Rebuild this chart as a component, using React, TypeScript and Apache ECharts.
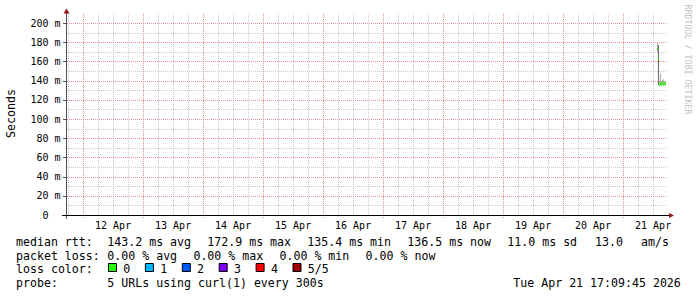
import React, { useEffect, useRef } from 'react';
import * as echarts from 'echarts';

const W = 697;
const H = 297;
const MONO = '"DejaVu Sans Mono", monospace';

// x axis: hours since 2026-04-11 00:00
const X_MIN = 17 + 9 / 60 + 45 / 3600; // Apr 11 17:09:45
const X_MAX = X_MIN + 240; // Apr 21 17:09:45
const STEP = 0.4; // 24 minutes per consolidated sample

const labelDays = [12, 13, 14, 15, 16, 17, 18, 19, 20, 21];
const monthName = 'Apr';
const yTicks = [0, 20, 40, 60, 80, 100, 120, 140, 160, 180, 200];
const Y_MAX = 210;

// samples on Apr 21 (end of each interval)
const sampleTimes = ['13:57', '14:21', '14:45', '15:09', '15:33', '15:57', '16:21', '16:45', '17:09'];
const medianRtt = [172.9, 162.5, 135.4, 137.2, 136.0, 138.3, 135.9, 137.0, 136.5];
const smokeLow = [170.0, 160.0, 135.0, 135.0, 134.8, 135.6, 135.0, 135.2, 135.3];
const smokeHigh = [179.0, 164.5, 138.0, 147.5, 138.5, 140.0, 141.5, 139.0, 138.2];
const spreadLow = [null, 135.4, null, null, null, null, null, null, null];
const spreadHigh = [null, 177.0, null, null, null, null, null, null, null];

const rttLabel = 'median rtt:';
const rttStats = ['143.2 ms avg', '172.9 ms max', '135.4 ms min', '136.5 ms now', '11.0 ms sd'];
const rttAmValue = '13.0';
const rttAmUnit = 'am/s';
const lossLabel = 'packet loss:';
const lossStats = ['0.00 % avg', '0.00 % max', '0.00 % min', '0.00 % now'];
const lossColorLabel = 'loss color:';
const lossClasses = ['0', '1', '2', '3', '4', '5/5'];
const lossClassColors = ['#26ff00', '#00b8ff', '#0059ff', '#7e00ff', '#ff0000', '#a10000'];
const probeLabel = 'probe:';
const probeText = '5 URLs using curl(1) every 300s';
const stampText = 'Tue Apr 21 17:09:45 2026';
const watermark = 'RRDTOOL / TOBI OETIKER';
const yName = 'Seconds';

const toHours = (hm: string) => {
  const [h, m] = hm.split(':').map(Number);
  return 240 + h + m / 60;
};
const sampleHours = sampleTimes.map(toHours);

const GRID_LEFT = 66;
const GRID_TOP = 13.4;
const GRID_W = 600;
const GRID_H = 201.6;
const GRID_BOTTOM_Y = GRID_TOP + GRID_H;

const MINOR_COLOR = 'rgb(200,200,200)';
const MAJOR_COLOR = 'rgb(230,140,140)';

export default function App() {
  const ref = useRef<HTMLDivElement>(null);
  useEffect(() => {
    if (!ref.current) return;
    const chart = echarts.init(ref.current, null, { renderer: 'svg' });

    const hGrid: number[][] = [];
    for (let v = 10; v < Y_MAX; v += 10) hGrid.push([X_MIN, v]);
    const vGrid: number[][] = [];
    for (let h = Math.ceil(X_MIN / 6) * 6; h < X_MAX; h += 6) vGrid.push([h, 0]);
    const noonHours = labelDays.map((d) => (d - 11) * 24 + 12);

    const text = (t: string, x: number, y: number, extra: any = {}) => ({
      type: 'text',
      x,
      y,
      silent: true,
      style: {
        text: t,
        font: `11.6px ${MONO}`,
        fill: '#000',
        textAlign: 'left',
        align: 'left',
        textVerticalAlign: 'middle',
        verticalAlign: 'middle',
        ...extra,
      },
    });

    const L1 = 242.0, L2 = 255.7, L3 = 269.2, L4 = 283.1;
    const graphics: any[] = [];
    graphics.push(text(rttLabel, 16, L1));
    rttStats.forEach((s, i) => graphics.push(text(s, 107.3 + i * 100, L1)));
    graphics.push(text(rttAmValue, 595, L1));
    graphics.push(text(rttAmUnit, 641, L1));
    graphics.push(text(lossLabel, 16, L2));
    lossStats.forEach((s, i) => graphics.push(text(s, 107.3 + i * 86.1, L2)));
    graphics.push(text(lossColorLabel, 16, L3));
    lossClasses.forEach((c, i) => {
      const bx = 108.5 + i * 36.9;
      graphics.push({
        type: 'rect',
        silent: true,
        shape: { x: bx, y: 263.5, width: 8, height: 8 },
        style: { fill: lossClassColors[i], stroke: '#000', lineWidth: 1 },
      });
      graphics.push(text(c, bx + 14.8, L3));
    });
    graphics.push(text(probeLabel, 16, L4));
    graphics.push(text(probeText, 107.3, L4));
    graphics.push(text(stampText, 513.3, L4));
    graphics.push({
      type: 'text',
      x: 11,
      y: 113.5,
      rotation: Math.PI / 2,
      silent: true,
      style: {
        text: yName,
        font: `11.6px ${MONO}`,
        fill: '#000',
        textAlign: 'center',
        align: 'center',
        textVerticalAlign: 'middle',
        verticalAlign: 'middle',
      },
    });
    graphics.push({
      type: 'text',
      x: 687.5,
      y: 59.5,
      rotation: -Math.PI / 2,
      silent: true,
      style: {
        text: watermark,
        font: `8.3px ${MONO}`,
        fill: '#c2c2c2',
        textAlign: 'center',
        align: 'center',
        textVerticalAlign: 'middle',
        verticalAlign: 'middle',
      },
    });
    // axis lines with overshoot and arrows
    const yAxisX = GRID_LEFT + 0.5;
    const xAxisY = Math.round(GRID_BOTTOM_Y) + 0.5;
    graphics.push({
      type: 'line', silent: true, z: 50,
      shape: { x1: yAxisX, y1: GRID_BOTTOM_Y + 4, x2: yAxisX, y2: GRID_TOP - 1 },
      style: { stroke: '#505050', lineWidth: 1 },
    });
    graphics.push({
      type: 'line', silent: true, z: 50,
      shape: { x1: GRID_LEFT - 4, y1: xAxisY, x2: GRID_LEFT + GRID_W + 3, y2: xAxisY },
      style: { stroke: '#000', lineWidth: 1 },
    });
    graphics.push({
      type: 'polygon', silent: true, z: 51,
      shape: { points: [[yAxisX - 3, GRID_TOP], [yAxisX + 3, GRID_TOP], [yAxisX, GRID_TOP - 5]] },
      style: { fill: '#9a1414' },
    });
    graphics.push({
      type: 'polygon', silent: true, z: 51,
      shape: { points: [[GRID_LEFT + GRID_W + 3, xAxisY - 2.5], [GRID_LEFT + GRID_W + 3, xAxisY + 2.5], [GRID_LEFT + GRID_W + 8, xAxisY]] },
      style: { fill: '#9a1414' },
    });

    chart.setOption({
      animation: false,
      backgroundColor: '#ffffff',
      grid: { left: GRID_LEFT, top: GRID_TOP, width: GRID_W, height: GRID_H, containLabel: false },
      xAxis: {
        type: 'value',
        min: X_MIN,
        max: X_MAX,
        axisLine: { show: false },
        splitLine: { show: false },
        axisTick: { show: false },
        axisLabel: { show: false },
      },
      yAxis: {
        type: 'value',
        min: 0,
        max: Y_MAX,
        axisLine: { show: false },
        splitLine: { show: false },
        axisTick: { show: false },
        axisLabel: { show: false },
      },
      graphic: graphics,
      series: [
        {
          type: 'custom',
          silent: true,
          z: 1,
          data: hGrid,
          renderItem: (p: any, api: any) => {
            const v = hGrid[p.dataIndex][1];
            const major = v % 20 === 0;
            const a = api.coord([X_MIN, v]);
            const b = api.coord([X_MAX, v]);
            const y = Math.round(a[1]) + 0.5;
            return {
              type: 'line',
              z2: major ? 2 : 1,
              shape: { x1: a[0] + 1, y1: y, x2: b[0] + 1, y2: y },
              style: { stroke: major ? MAJOR_COLOR : MINOR_COLOR, fill: null, lineWidth: 1, lineDash: [1, 1] },
            };
          },
        },
        {
          type: 'custom',
          silent: true,
          z: 1,
          data: vGrid,
          renderItem: (p: any, api: any) => {
            const h = vGrid[p.dataIndex][0];
            const major = h % 24 === 0;
            const a = api.coord([h, 0]);
            const b = api.coord([h, Y_MAX]);
            const x = Math.round(a[0]) + 0.5;
            return {
              type: 'line',
              z2: major ? 2 : 1,
              shape: { x1: x, y1: a[1] + (major ? 3 : 0), x2: x, y2: b[1] },
              style: { stroke: major ? MAJOR_COLOR : MINOR_COLOR, fill: null, lineWidth: 1, lineDash: [1, 1] },
            };
          },
        },
        {
          type: 'custom',
          silent: true,
          z: 2,
          data: yTicks.map((v) => [X_MIN, v]),
          renderItem: (p: any, api: any) => {
            const c = api.coord([X_MIN, api.value(1)]);
            const y = Math.round(c[1]) + 0.5;
            const v = yTicks[p.dataIndex];
            return {
              type: 'group',
              children: [
                {
                  type: 'line',
                  shape: { x1: c[0] - 3, y1: y, x2: c[0], y2: y },
                  style: { stroke: '#505050', lineWidth: 1 },
                },
                {
                  type: 'text',
                  x: c[0] - 5.5,
                  y: c[1],
                  style: {
                    text: v === 0 ? '0\u00a0\u00a0' : `${v} m`,
                    font: `10px ${MONO}`,
                    fill: '#000',
                    textAlign: 'right',
                    align: 'right',
                    textVerticalAlign: 'middle',
                    verticalAlign: 'middle',
                  },
                },
              ],
            };
          },
        },
        {
          type: 'custom',
          silent: true,
          z: 2,
          data: noonHours.map((h) => [h, 0]),
          renderItem: (p: any, api: any) => {
            const c = api.coord([api.value(0), 0]);
            return {
              type: 'text',
              x: c[0],
              y: c[1] + 10,
              style: {
                text: `${labelDays[p.dataIndex]} ${monthName}`,
                font: `10px ${MONO}`,
                fill: '#000',
                textAlign: 'center',
                align: 'center',
                textVerticalAlign: 'middle',
                verticalAlign: 'middle',
              },
            };
          },
        },
        {
          type: 'custom',
          name: 'smoke',
          silent: true,
          z: 3,
          data: sampleHours.map((t, i) => [t, smokeLow[i], smokeHigh[i]]),
          renderItem: (_p: any, api: any) => {
            const t = api.value(0);
            const a = api.coord([t - STEP, api.value(2)]);
            const b = api.coord([t, api.value(1)]);
            return {
              type: 'rect',
              shape: { x: a[0], y: a[1], width: b[0] - a[0], height: b[1] - a[1] },
              style: { fill: '#ababab' },
            };
          },
        },
        {
          type: 'custom',
          name: 'spread',
          silent: true,
          z: 4,
          data: sampleHours
            .map((t, i) => [t, spreadLow[i], spreadHigh[i]])
            .filter((d) => d[1] !== null),
          renderItem: (_p: any, api: any) => {
            const t = api.value(0);
            const a = api.coord([t - STEP, api.value(2)]);
            const b = api.coord([t - STEP * 0.4, api.value(1)]);
            return {
              type: 'rect',
              shape: { x: a[0], y: a[1], width: b[0] - a[0], height: b[1] - a[1] },
              style: { fill: '#000' },
            };
          },
        },
        {
          type: 'custom',
          name: 'median rtt',
          silent: true,
          z: 5,
          data: sampleHours.map((t, i) => [t, medianRtt[i]]),
          renderItem: (_p: any, api: any) => {
            const t = api.value(0);
            const a = api.coord([t - STEP, api.value(1)]);
            const b = api.coord([t, api.value(1)]);
            return {
              type: 'rect',
              shape: { x: a[0], y: a[1] - 1.3, width: b[0] - a[0], height: 2.6 },
              style: { fill: lossClassColors[0] },
            };
          },
        },
      ],
    });
    return () => chart.dispose();
  }, []);
  return (
    <div
      ref={ref}
      style={{ position: 'absolute', left: 0, top: 0, width: W, height: H, background: '#fff' }}
    />
  );
}
